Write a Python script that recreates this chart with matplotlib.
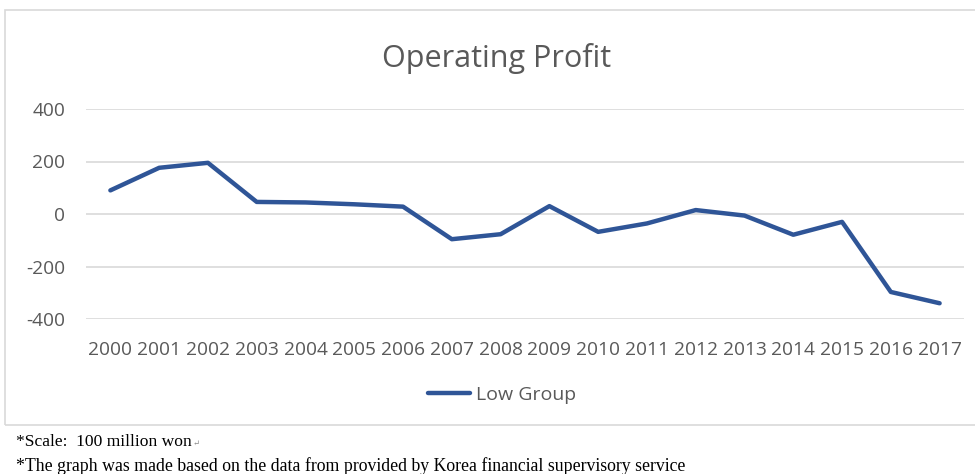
import matplotlib
matplotlib.use("Agg")
import matplotlib.pyplot as plt
from matplotlib.patches import Rectangle

# ---- data ----
years = [str(y) for y in range(2000, 2018)]
low_group = [90, 176, 195, 46, 44, 37, 28, -96, -77, 30, -68, -36, 15, -6, -79, -30, -297, -340]
y_ticks = [-400, -200, 0, 200, 400]

grey = "#595959"
blue = "#2F5597"
plt.rcParams["font.family"] = ["Open Sans", "DejaVu Sans"]

fig = plt.figure(figsize=(9.75, 4.74), dpi=100)

# chart frame like the spreadsheet chart box
fig.patches.append(Rectangle((5/975, 1-425/474), 1.0, 415/474, transform=fig.transFigure,
                             fill=False, edgecolor="#d9d9d9", linewidth=1.2))

ax = fig.add_axes([86/975, 1-319/474, (964-86)/975, (319-109)/474])
x = range(len(years))
ax.plot(x, low_group, color=blue, linewidth=3.2, solid_capstyle="round",
        solid_joinstyle="round", label="Low Group")
ax.set_xlim(-0.5, len(years)-0.5)
ax.set_ylim(-400, 400)
ax.set_yticks(y_ticks)
ax.set_yticklabels([str(v) for v in y_ticks])
ax.set_xticks(list(x))
ax.set_xticklabels(years)
ax.grid(axis="y", color="#d9d9d9", linewidth=1.2)
ax.set_axisbelow(True)
for s in ax.spines.values():
    s.set_visible(False)
ax.tick_params(length=0, labelsize=13.8, colors=grey)
ax.tick_params(axis="x", pad=16)
ax.tick_params(axis="y", pad=15)

fig.text(497/975, 1-58/474, "Operating Profit", ha="center", va="center",
         fontsize=22, color=grey)

leg = ax.legend(loc="center", bbox_to_anchor=(502/975, 1-395/474), bbox_transform=fig.transFigure,
                frameon=False, fontsize=14, handlelength=2.2, handletextpad=0.3)
for t in leg.get_texts():
    t.set_color(grey)

serif = ["Liberation Serif", "DejaVu Serif"]
fig.text(16/975, 1-442/474, "*Scale:  100 million won", ha="left", va="center",
         fontsize=12.6, family=serif, color="black")
fig.text(193/975, 1-444/474, "\u21b5", ha="left", va="center", fontsize=6, family=serif, color="#888888")
fig.text(16/975, 1-466/474, "*The graph was made based on the data from provided by Korea financial supervisory service",
         ha="left", va="center", fontsize=12.8, family=serif, color="black")

fig.savefig("out.png", dpi=100)
